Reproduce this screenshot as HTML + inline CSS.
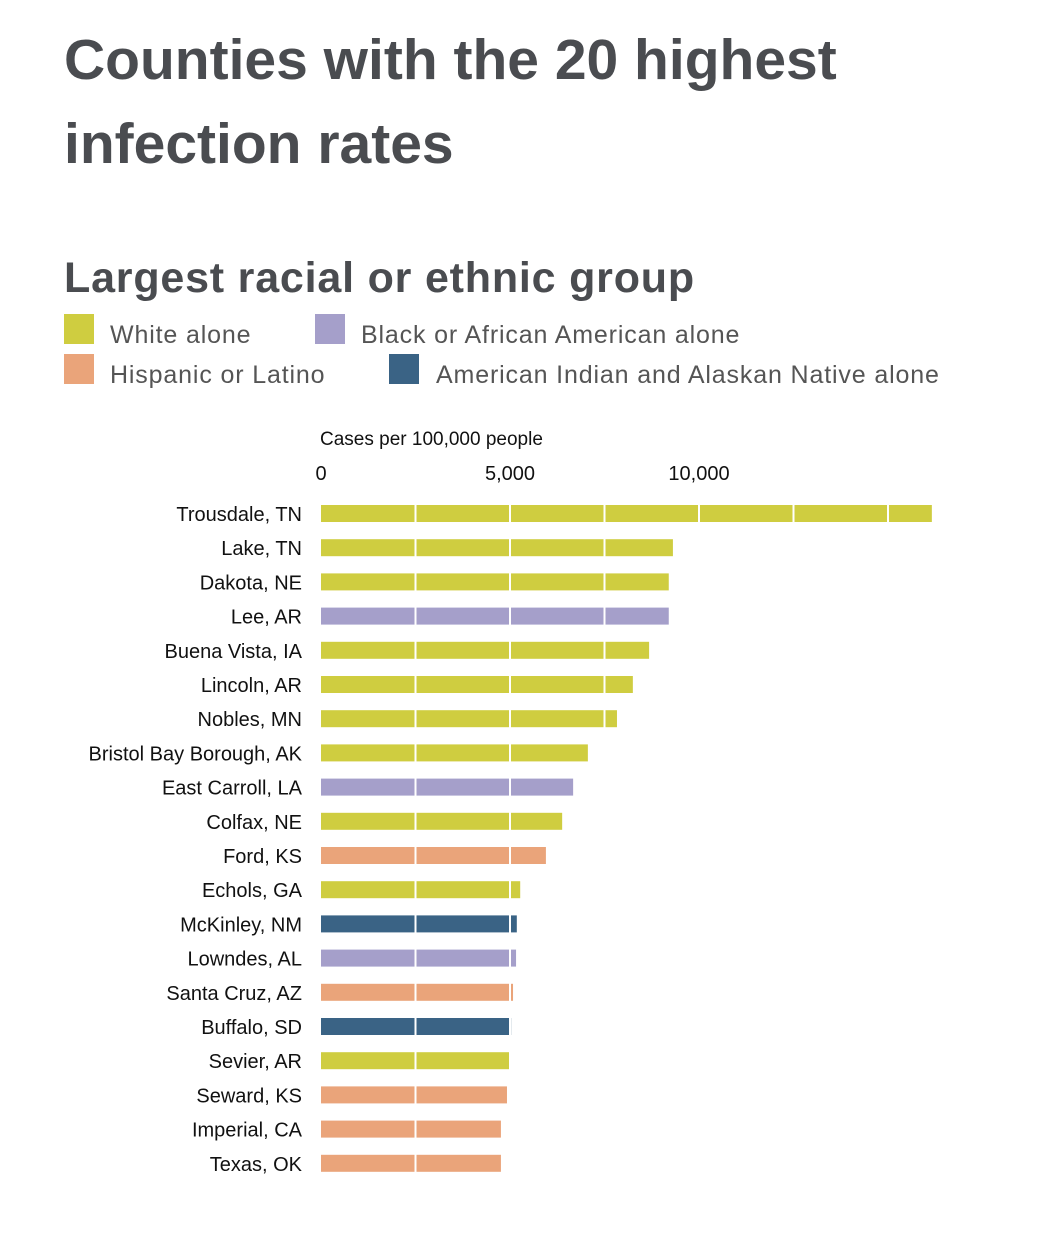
<!DOCTYPE html>
<html><head><meta charset="utf-8"><style>
body{margin:0;background:#fff;width:1058px;height:1242px;overflow:hidden;font-family:"Liberation Sans",sans-serif;}
h1{position:absolute;left:64px;top:18px;margin:0;font-size:57px;line-height:84px;font-weight:bold;color:#4a4c50;width:900px;letter-spacing:0px}
h2{position:absolute;left:64px;top:254px;margin:0;font-size:43px;font-weight:bold;color:#4a4c50;letter-spacing:0.8px}
.lg{position:absolute;font-size:25px;color:#555;letter-spacing:0.85px}
.sw{position:absolute;width:30px;height:30px}
</style></head><body>
<h1>Counties with the 20 highest infection rates</h1>
<h2>Largest racial or ethnic group</h2>
<div class="sw" style="left:64px;top:314px;background:#cfcd40"></div>
<div class="lg" style="left:110px;top:321px">White alone</div>
<div class="sw" style="left:315px;top:314px;background:#a59fca"></div>
<div class="lg" style="left:361px;top:321px">Black or African American alone</div>
<div class="sw" style="left:64px;top:354px;background:#eaa47a"></div>
<div class="lg" style="left:110px;top:361px">Hispanic or Latino</div>
<div class="sw" style="left:389px;top:354px;background:#3a6385"></div>
<div class="lg" style="left:436px;top:361px">American Indian and Alaskan Native alone</div>
<svg id="c" width="1058" height="1242" style="position:absolute;left:0;top:0"></svg>
<script>
const counties=["Trousdale, TN","Lake, TN","Dakota, NE","Lee, AR","Buena Vista, IA","Lincoln, AR","Nobles, MN","Bristol Bay Borough, AK","East Carroll, LA","Colfax, NE","Ford, KS","Echols, GA","McKinley, NM","Lowndes, AL","Santa Cruz, AZ","Buffalo, SD","Sevier, AR","Seward, KS","Imperial, CA","Texas, OK"];
const rates=[16160,9310,9200,9200,8680,8250,7830,7060,6670,6380,5950,5270,5180,5160,5080,5030,5000,4920,4760,4760];
const groups=["w","w","w","b","w","w","w","w","b","w","h","w","n","b","h","n","w","h","h","h"];
const ticks=[0,5000,10000];
const colors={w:"#cfcd40",b:"#a59fca",h:"#eaa47a",n:"#3a6385"};
const svg=document.getElementById('c'),NS="http://www.w3.org/2000/svg";
const x=v=>321+v*189/5000, y=i=>505+i*34.2;
function mk(t,a){const e=document.createElementNS(NS,t);for(const k in a)e.setAttribute(k,a[k]);svg.appendChild(e);return e;}
let t=mk('text',{x:320,y:445,'font-size':19,fill:'#111'});t.textContent="Cases per 100,000 people";


ticks.forEach(v=>{const e=mk('text',{x:x(v),y:480,'font-size':20,fill:'#111','text-anchor':'middle'});e.textContent=v.toLocaleString('en-US');

});
counties.forEach((c,i)=>{
const r=mk('rect',{x:x(0),y:y(i),width:x(rates[i])-x(0),height:17,fill:colors[groups[i]]});


const l=mk('text',{x:302,y:y(i)+16,'font-size':20,fill:'#111','text-anchor':'end'});l.textContent=c;


});
for(let v=2500;v<=17500;v+=2500){const g=mk('line',{x1:x(v),x2:x(v),y1:500,y2:1185,stroke:'#fff','stroke-width':2});

}
</script>
</body></html>
